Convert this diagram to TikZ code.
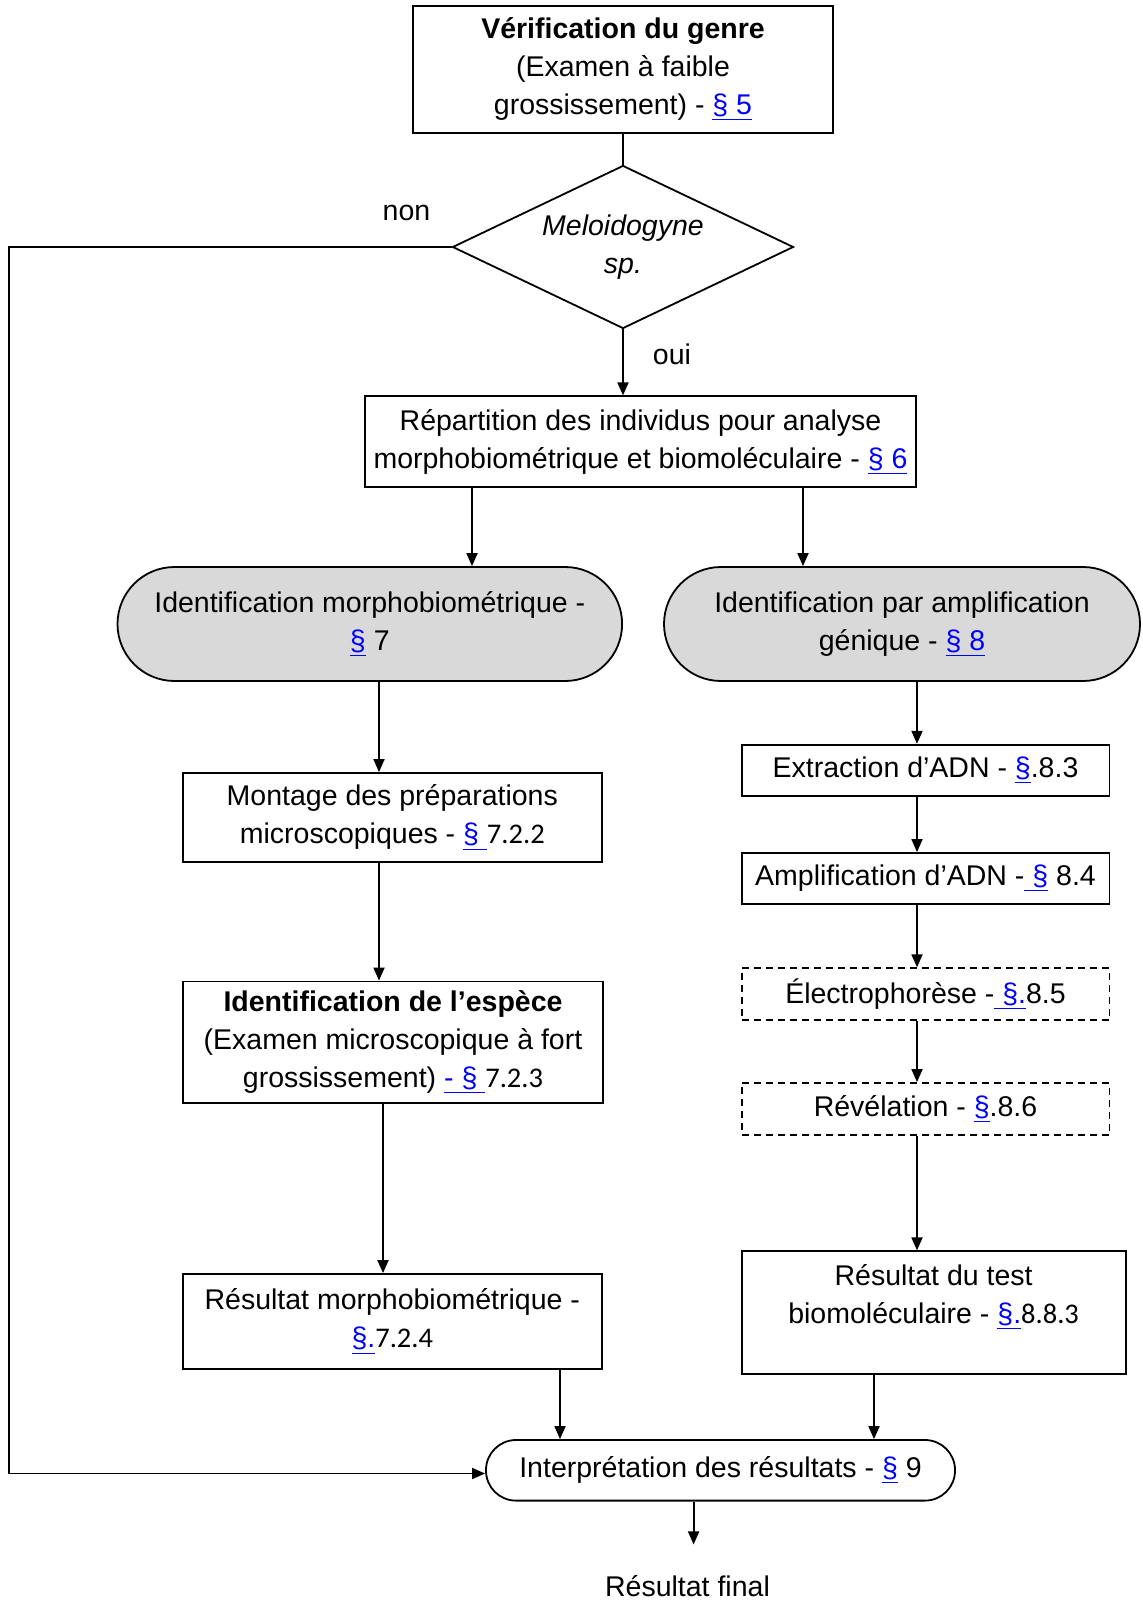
\documentclass[tikz,border=0pt]{standalone}
\usepackage{fontspec}
\setmainfont{Liberation Sans}
\newfontfamily\chiffres{Carlito}
\usetikzlibrary{shapes.geometric}
\usetikzlibrary{arrows.meta}
\definecolor{lienbleu}{RGB}{0,0,255}
\definecolor{grisclair}{RGB}{217,217,217}
\newcommand{\texte}{\fontsize{14.25pt}{18.9pt}\selectfont}
\newcommand{\lien}[1]{\textcolor{lienbleu}{\underline{#1}}}   % renvoi vers un paragraphe
\tikzset{
	boite/.style={draw, rectangle, align=center, inner sep=0pt},
	boitetiret/.style={boite, dash pattern=on 3.5pt off 2.5pt},
	terminal/.style={draw, rectangle, rounded corners=#1, fill=grisclair, align=center, inner sep=0pt},
	losange/.style={draw, diamond, aspect=2.09, inner sep=0pt, align=center},
	fleche/.style={-{Triangle[length=6.5pt,width=5.5pt]}}
}

\begin{document}
\begin{tikzpicture}[x=0.5pt, y=-0.5pt, line width=0.9pt, font=\texte]
\useasboundingbox (0,0) rectangle (1142,1601);

\node[boite, minimum width=210pt, minimum height=63.5pt] (verif) at (623,69.5)
	{\textbf{Vérification du genre}\\(Examen à faible\\grossissement) - \lien{§ 5}};
\node[losange, minimum width=170.5pt, minimum height=81.5pt] (genre) at (623,247)
	{\textit{Meloidogyne}\\\textit{sp.}};
\node[boite, minimum width=275.8pt, minimum height=45.5pt] (repart) at (640.5,441.8)
	{Répartition des individus pour analyse\\morphobiométrique et biomoléculaire - \lien{§ 6}};

\node[terminal=28.5pt, minimum width=252.3pt, minimum height=57pt] (morpho) at (369.8,624)
	{Identification morphobiométrique -\\\lien{§} 7};
\node[terminal=28.5pt, minimum width=238pt, minimum height=57pt] (ampli) at (902,624)
	{Identification par amplification\\génique - \lien{§ 8}};

\node[boite, minimum width=209.4pt, minimum height=44.5pt] (montage) at (392.3,817.5)
	{Montage des préparations\\microscopiques - \lien{§ }{\chiffres 7.2.2}};
\node[boite, minimum width=209.9pt, minimum height=60.8pt] (espece) at (393,1042.3)
	{\textbf{Identification de l’espèce}\\(Examen microscopique à fort\\grossissement) \lien{- § }{\chiffres 7.2.3}};
\node[boite, minimum width=209.4pt, minimum height=47.5pt] (resmorpho) at (392.3,1321.5)
	{Résultat morphobiométrique -\\\lien{§.}{\chiffres 7.2.4}};

\node[boite, minimum width=183.9pt, minimum height=25.5pt] (extraction) at (925.5,770.2)
	{Extraction d’ADN - \lien{§}.8.3};
\node[boite, minimum width=183.9pt, minimum height=25.5pt] (amplif) at (925.5,878.5)
	{Amplification d’ADN -\lien{ §} 8.4};
\node[boitetiret, minimum width=183.9pt, minimum height=26pt] (electro) at (925.5,994.3)
	{Électrophorèse -\lien{ §.}8.5};
\node[boitetiret, minimum width=183.9pt, minimum height=26pt] (revel) at (925.5,1109)
	{Révélation - \lien{§}.8.6};
\node[boite, minimum width=192pt, minimum height=61.3pt] (restest) at (933.6,1312.6)
	{Résultat du test\\biomoléculaire - \lien{§.}{\chiffres 8.8.3}\\\mbox{}};

\node[draw, rounded corners=15pt, minimum width=234.5pt, minimum height=30.3pt, inner sep=0pt] (interp) at (720.5,1470.3)
	{Interprétation des résultats - \lien{§} 9};
\node[inner sep=0pt] (final) at (687.5,1586) {Résultat final};

\node (non) at (406.5,212.5) {non};
\node (oui) at (672,354.5) {oui};

% colonnes des fleches
\coordinate (colA) at (472,0);
\coordinate (colB) at (803,0);
\coordinate (colC) at (379,0);
\coordinate (colD) at (383,0);
\coordinate (colE) at (917,0);
\coordinate (colF) at (560,0);
\coordinate (colG) at (874,0);
\coordinate (colH) at (693.6,0);
\coordinate (coin) at (9.2,1473.5);

\draw (verif) -- (genre);
\draw[fleche] (genre.south) -- (genre.south |- repart.north);
\draw[fleche] (genre.west) -| (coin) -- (interp.west |- coin);

\draw[fleche] (repart.south -| colA) -- (morpho.north -| colA);
\draw[fleche] (repart.south -| colB) -- (ampli.north -| colB);

\draw[fleche] (morpho.south -| colC) -- (montage.north -| colC);
\draw[fleche] (montage.south -| colC) -- (espece.north -| colC);
\draw[fleche] (espece.south -| colD) -- (resmorpho.north -| colD);
\draw[fleche] (resmorpho.south -| colF) -- (interp.north -| colF);

\foreach \a/\b in {ampli/extraction, extraction/amplif, amplif/electro, electro/revel, revel/restest}
	\draw[fleche] (\a.south -| colE) -- (\b.north -| colE);
\draw[fleche] (restest.south -| colG) -- (interp.north -| colG);

\draw[fleche, shorten >=15pt] (interp.south -| colH) -- (final.north -| colH);

\end{tikzpicture}
\end{document}
